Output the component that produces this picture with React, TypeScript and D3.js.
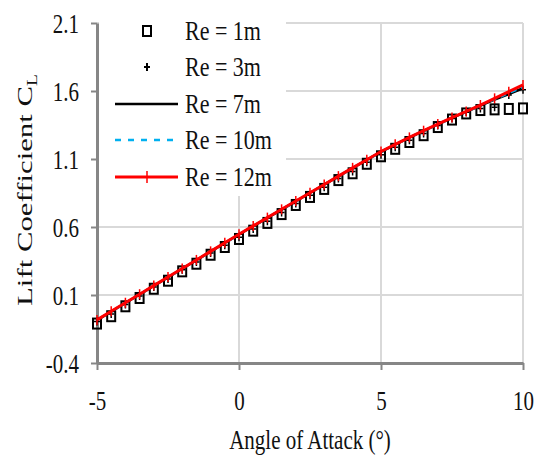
import React, { useEffect, useRef } from 'react'
import * as d3 from 'd3'

// angle of attack (deg) and lift coefficient per Reynolds number
const aoa = [-5, -4.5, -4, -3.5, -3, -2.5, -2, -1.5, -1, -0.5, 0, 0.5, 1, 1.5, 2, 2.5, 3, 3.5, 4, 4.5, 5, 5.5, 6, 6.5, 7, 7.5, 8, 8.5, 9, 9.5, 10]
const re1m = [-0.11, -0.056, 0.017, 0.078, 0.146, 0.205, 0.274, 0.33, 0.396, 0.453, 0.512, 0.573, 0.63, 0.695, 0.762, 0.821, 0.88, 0.945, 0.995, 1.065, 1.12, 1.175, 1.225, 1.275, 1.335, 1.39, 1.435, 1.46, 1.465, 1.468, 1.472]
const re3m = [-0.095, -0.04, 0.03, 0.092, 0.158, 0.217, 0.285, 0.343, 0.408, 0.466, 0.524, 0.585, 0.643, 0.706, 0.773, 0.833, 0.892, 0.956, 1.008, 1.076, 1.132, 1.186, 1.237, 1.288, 1.346, 1.398, 1.443, 1.472, 1.48, 1.57, 1.61]
const re7m = [-0.085, -0.022, 0.041, 0.104, 0.167, 0.23, 0.293, 0.356, 0.419, 0.482, 0.545, 0.606, 0.667, 0.728, 0.789, 0.85, 0.911, 0.972, 1.033, 1.093, 1.153, 1.206, 1.257, 1.306, 1.355, 1.402, 1.447, 1.492, 1.536, 1.578, 1.62]
const re10m = [-0.085, -0.022, 0.041, 0.104, 0.167, 0.23, 0.293, 0.356, 0.419, 0.482, 0.545, 0.606, 0.667, 0.728, 0.789, 0.85, 0.911, 0.972, 1.033, 1.093, 1.153, 1.206, 1.257, 1.306, 1.355, 1.402, 1.448, 1.494, 1.54, 1.585, 1.63]
const re12m = [-0.083, -0.02, 0.043, 0.106, 0.169, 0.232, 0.295, 0.358, 0.421, 0.484, 0.547, 0.608, 0.669, 0.73, 0.791, 0.852, 0.913, 0.974, 1.035, 1.095, 1.155, 1.208, 1.259, 1.308, 1.357, 1.405, 1.45, 1.497, 1.546, 1.595, 1.645]

const xTicks = [-5, 0, 5, 10]
const yTicks = [-0.4, 0.1, 0.6, 1.1, 1.6, 2.1]
const legendLabels = ['Re = 1m', 'Re = 3m', 'Re = 7m', 'Re = 10m', 'Re = 12m']

const W = 537
const H = 455
const FONT = '"Liberation Serif", "Times New Roman", serif'

export default function App() {
  const ref = useRef<SVGSVGElement>(null)

  useEffect(() => {
    const svg = d3.select(ref.current)
    svg.selectAll('*').remove()

    const x = d3.scaleLinear().domain([-5, 10]).range([97, 523])
    const y = d3.scaleLinear().domain([-0.4, 2.1]).range([363, 23])

    // grid
    const grid = svg.append('g')
    grid.selectAll('line.h')
      .data(yTicks.slice(1))
      .enter()
      .append('line')
      .attr('x1', x(-5)).attr('x2', x(10))
      .attr('y1', d => y(d)).attr('y2', d => y(d))
      .attr('stroke', '#d9d9d9').attr('stroke-width', 2)
    grid.selectAll('line.v')
      .data(xTicks.slice(1))
      .enter()
      .append('line')
      .attr('x1', d => x(d)).attr('x2', d => x(d))
      .attr('y1', y(-0.4)).attr('y2', y(2.1))
      .attr('stroke', '#d9d9d9').attr('stroke-width', 2)

    // legend background hides the grid behind it
    svg.append('rect')
      .attr('x', 99).attr('y', 0).attr('width', 187).attr('height', 196)
      .attr('fill', '#fff')

    // axes
    const yAxis = svg.append('g')
      .attr('transform', `translate(${x(-5)},0)`)
      .call(d3.axisLeft(y).tickValues(yTicks).tickSize(6).tickSizeOuter(0).tickFormat(d => (+d).toFixed(1)))
    const xAxis = svg.append('g')
      .attr('transform', `translate(0,${y(-0.4)})`)
      .call(d3.axisBottom(x).tickValues(xTicks).tickSize(7).tickSizeOuter(0).tickFormat(d => String(d)))

    ;[yAxis, xAxis].forEach(a => {
      a.select('.domain').attr('stroke', '#868686').attr('stroke-width', 3)
      a.selectAll('.tick line').attr('stroke', '#868686').attr('stroke-width', 2)
      a.selectAll('text')
        .attr('fill', '#111')
        .style('font-family', FONT)
        .style('font-size', '21px')
        .attr('dy', null).attr('x', null).attr('y', null)
    })
    yAxis.selectAll('text').attr('text-anchor', 'end').attr('transform', 'translate(-18,9) scale(1,1.3)')
    xAxis.selectAll('text').attr('text-anchor', 'middle').attr('transform', 'translate(0,47) scale(1,1.3)')

    // axis titles
    svg.append('text')
      .attr('transform', 'translate(310,449) scale(1,1.3)')
      .attr('text-anchor', 'middle')
      .style('font-family', FONT).style('font-size', '21px').attr('fill', '#111')
      .text('Angle of Attack (°)')
    const yt = svg.append('text')
      .attr('transform', 'translate(32,190) rotate(-90) scale(1.4,1)')
      .attr('text-anchor', 'middle')
      .style('font-family', FONT).style('font-size', '22px').attr('fill', '#111')
    yt.append('tspan').text('Lift Coefficient C')
    yt.append('tspan').attr('dy', 5).style('font-size', '14px').text('L')

    const line = d3.line<number>().x((d, i) => x(aoa[i])).y(d => y(d))

    // series
    svg.append('path').attr('d', line(re7m)).attr('fill', 'none')
      .attr('stroke', '#000').attr('stroke-width', 2.5)
    svg.append('path').attr('d', line(re10m)).attr('fill', 'none')
      .attr('stroke', '#00b0f0').attr('stroke-width', 2.5).attr('stroke-dasharray', '6,5')

    svg.append('g').selectAll('rect')
      .data(re1m)
      .enter()
      .append('rect')
      .attr('x', (d, i) => x(aoa[i]) - 4).attr('y', d => y(d) - 5)
      .attr('width', 8).attr('height', 10)
      .attr('fill', 'none').attr('stroke', '#000').attr('stroke-width', 2)

    const plus = 'M-3,0H3M0,-4V4'
    svg.append('g').selectAll('path')
      .data(re3m)
      .enter()
      .append('path')
      .attr('transform', (d, i) => `translate(${x(aoa[i])},${y(d)})`)
      .attr('d', plus)
      .attr('stroke', '#000').attr('stroke-width', 1.5)

    svg.append('path').attr('d', line(re12m)).attr('fill', 'none')
      .attr('stroke', '#ff0000').attr('stroke-width', 3)
    svg.append('g').selectAll('line')
      .data(re12m)
      .enter()
      .append('line')
      .attr('x1', (d, i) => x(aoa[i])).attr('x2', (d, i) => x(aoa[i]))
      .attr('y1', d => y(d) - 5).attr('y2', d => y(d) + 5)
      .attr('stroke', '#ff0000').attr('stroke-width', 1.5)

    // legend
    const rows = [31, 67, 104, 140, 177]
    const lg = svg.append('g')
    lg.append('rect').attr('x', 143).attr('y', rows[0] - 5).attr('width', 8).attr('height', 10)
      .attr('fill', 'none').attr('stroke', '#000').attr('stroke-width', 2)
    lg.append('path').attr('transform', `translate(147,${rows[1]})`).attr('d', plus)
      .attr('stroke', '#000').attr('stroke-width', 2)
    lg.append('line').attr('x1', 115).attr('x2', 178).attr('y1', rows[2]).attr('y2', rows[2])
      .attr('stroke', '#000').attr('stroke-width', 2.5)
    lg.append('line').attr('x1', 115).attr('x2', 178).attr('y1', rows[3]).attr('y2', rows[3])
      .attr('stroke', '#00b0f0').attr('stroke-width', 2.5).attr('stroke-dasharray', '6,7')
    lg.append('line').attr('x1', 115).attr('x2', 178).attr('y1', rows[4]).attr('y2', rows[4])
      .attr('stroke', '#ff0000').attr('stroke-width', 3)
    lg.append('line').attr('x1', 147).attr('x2', 147).attr('y1', rows[4] - 6).attr('y2', rows[4] + 6)
      .attr('stroke', '#ff0000').attr('stroke-width', 1.5)
    lg.selectAll('text')
      .data(legendLabels)
      .enter()
      .append('text')
      .attr('transform', (d, i) => `translate(185,${rows[i] + 9}) scale(1,1.25)`)
      .style('font-family', FONT).style('font-size', '22px').attr('fill', '#111')
      .text(d => d)
  }, [])

  return (
    <svg ref={ref} width={W} height={H}
      style={{ position: 'absolute', left: 0, top: 0, background: '#fff' }} />
  )
}
